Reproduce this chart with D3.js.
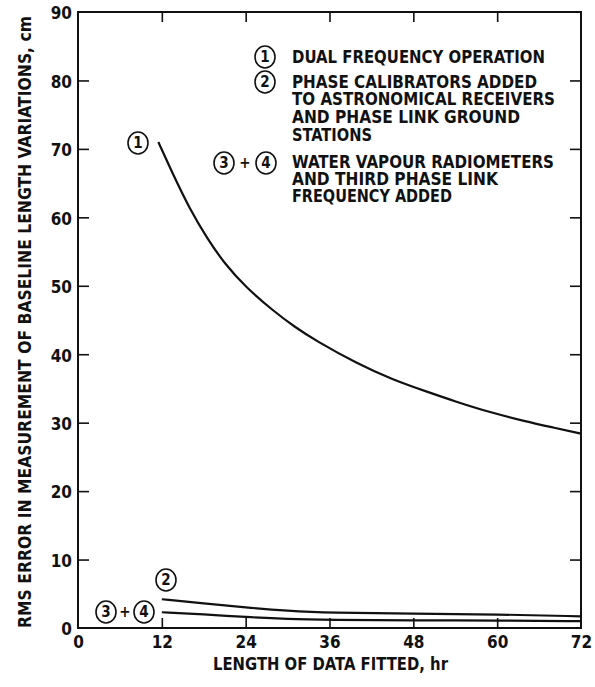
<!DOCTYPE html>
<html>
<head>
  <meta charset="utf-8">
  <title>RMS error vs length of data fitted</title>
  <script src="https://d3js.org/d3.v7.min.js"></script>
  <style>
    body { margin: 0; background: #fff; }
    svg text {
      font-family: "Liberation Sans Narrow", "DejaVu Sans Condensed", sans-serif;
      font-weight: bold;
      fill: #111;
    }
    .curve { fill: none; stroke: #111; stroke-width: 2.2px; }
    .frame { fill: none; stroke: #111; stroke-width: 2px; }
    .axis path { display: none; }
    .axis line { stroke: #111; stroke-width: 1.6px; }
    .tag ellipse { fill: #fff; stroke: #111; stroke-width: 1.6px; }
  </style>
</head>
<body>
  <svg width="595" height="687"></svg>
  <script>
    // curve 1: dual frequency operation
    const hours1 = [11.5, 13.5, 16, 18.5, 21, 24, 28, 31, 34, 40, 45, 50, 54, 59, 64, 68, 72];
    const rms1 = [71, 66.5, 61.2, 56.9, 53.2, 49.8, 46.3, 44.0, 42.0, 38.6, 36.3, 34.5, 33.1, 31.5, 30.2, 29.3, 28.4];
    // curve 2: phase calibrators added
    const hours2 = [12, 18, 24, 30, 36, 48, 60, 72];
    const rms2 = [4.2, 3.6, 3.0, 2.5, 2.2, 2.1, 2.0, 1.7];
    // curve 3+4: water vapour radiometers
    const hours3 = [12, 18, 24, 30, 36, 48, 60, 72];
    const rms3 = [2.3, 2.0, 1.6, 1.3, 1.2, 1.1, 1.1, 1.0];

    const xTicks = [0, 12, 24, 36, 48, 60, 72];
    const yTicks = [0, 10, 20, 30, 40, 50, 60, 70, 80, 90];

    const legendLines = [
      "DUAL FREQUENCY OPERATION",
      "PHASE CALIBRATORS ADDED",
      "TO ASTRONOMICAL RECEIVERS",
      "AND PHASE LINK GROUND",
      "STATIONS",
      "WATER VAPOUR RADIOMETERS",
      "AND THIRD PHASE LINK",
      "FREQUENCY ADDED"
    ];

    const svg = d3.select("svg");
    const x = d3.scaleLinear().domain([0, 72]).range([78, 581]);
    const y = d3.scaleLinear().domain([0, 90]).range([628, 12]);

    // frame
    svg.append("rect").attr("class", "frame")
      .attr("x", x(0)).attr("y", y(90))
      .attr("width", x(72) - x(0)).attr("height", y(0) - y(90));

    // axes with inward ticks
    svg.append("g").attr("class", "axis")
      .attr("transform", `translate(0,${y(0)})`)
      .call(d3.axisBottom(x).tickValues(xTicks).tickSize(-10).tickSizeOuter(0).tickPadding(6))
      .call(g => g.selectAll("text").attr("font-size", 17).attr("dy", "0.85em"))
      .call(g => g.selectAll(".tick").filter(d => d === 0 || d === 72).select("line").remove());

    svg.append("g").attr("class", "axis")
      .attr("transform", `translate(0,${y(90)})`)
      .call(d3.axisTop(x).tickValues(xTicks.slice(1, -1)).tickSize(-10).tickSizeOuter(0).tickFormat(""));

    svg.append("g").attr("class", "axis")
      .attr("transform", `translate(${x(0)},0)`)
      .call(d3.axisLeft(y).tickValues(yTicks).tickSize(-11).tickSizeOuter(0).tickPadding(6))
      .call(g => g.selectAll("text").attr("font-size", 17).attr("dy", "0.4em"))
      .call(g => g.selectAll(".tick").filter(d => d === 0 || d === 90).select("line").remove());

    svg.append("g").attr("class", "axis")
      .attr("transform", `translate(${x(72)},0)`)
      .call(d3.axisRight(y).tickValues(yTicks.slice(1, -1)).tickSize(-11).tickSizeOuter(0).tickFormat(""));

    // curves
    const line = d3.line().x(d => x(d[0])).y(d => y(d[1])).curve(d3.curveBasis);
    [[hours1, rms1], [hours2, rms2], [hours3, rms3]].forEach(([hs, vs]) => {
      svg.append("path").attr("class", "curve").attr("d", line(d3.zip(hs, vs)));
    });

    // circled numbers
    function tag(cx, cy, label) {
      const g = svg.append("g").attr("class", "tag");
      g.append("ellipse").attr("cx", cx).attr("cy", cy).attr("rx", 10).attr("ry", 11);
      g.append("text").attr("x", cx).attr("y", cy).attr("dy", "0.36em")
        .attr("text-anchor", "middle").attr("font-size", 15).attr("font-weight", "normal").text(label);
    }
    function plus(cx, cy) {
      svg.append("text").attr("x", cx).attr("y", cy).attr("dy", "0.36em")
        .attr("text-anchor", "middle").attr("font-size", 15).text("+");
    }

    tag(138, 143, "1");
    tag(166, 580, "2");
    tag(106, 612, "3"); plus(125, 612); tag(144, 612, "4");

    tag(265, 57, "1");
    tag(265, 82, "2");
    tag(224, 163, "3"); plus(245, 163); tag(266, 163, "4");

    // legend text
    const legendY = [57, 82, 99, 117, 135, 162, 179, 196];
    const legendW = [253, 245, 263, 228, 80, 262, 206, 160];
    svg.append("g").selectAll("text")
      .data(legendLines)
      .join("text")
      .attr("x", 292)
      .attr("y", (d, i) => legendY[i])
      .attr("dy", "0.36em")
      .attr("font-size", 18)
      .attr("textLength", (d, i) => legendW[i])
      .attr("lengthAdjust", "spacingAndGlyphs")
      .text(d => d);

    // axis titles
    svg.append("text")
      .attr("x", 213).attr("y", 664).attr("dy", "0.36em")
      .attr("font-size", 18)
      .attr("textLength", 235).attr("lengthAdjust", "spacingAndGlyphs")
      .text("LENGTH OF DATA FITTED, hr");

    svg.append("text")
      .attr("transform", "translate(25,628) rotate(-90)")
      .attr("dy", "0.36em")
      .attr("font-size", 18)
      .attr("textLength", 612).attr("lengthAdjust", "spacingAndGlyphs")
      .text("RMS ERROR IN MEASUREMENT OF  BASELINE LENGTH VARIATIONS, cm");
  </script>
</body>
</html>
